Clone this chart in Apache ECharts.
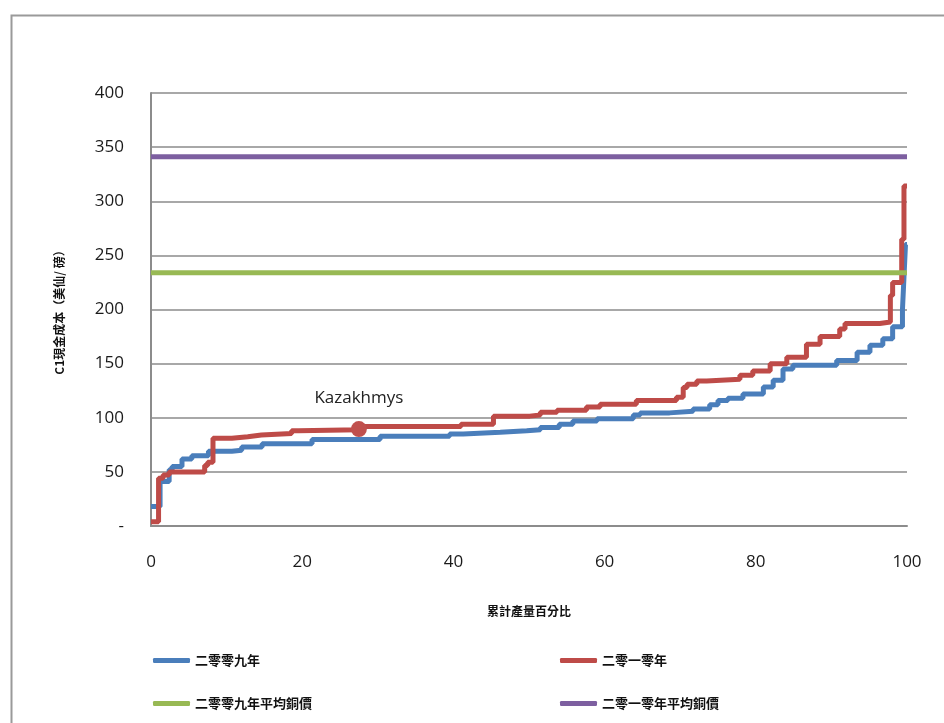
<!DOCTYPE html>
<html>
<head>
<meta charset="utf-8">
<script src="https://cdn.jsdelivr.net/npm/echarts@6/dist/echarts.min.js"></script>
<style>html,body{margin:0;padding:0;background:#fff;}#c{width:944px;height:723px;}</style>
</head>
<body>
<div id="c"></div>
<script>
// Cumulative production % where each step starts, and C1 cash cost (US c/lb)
const x2009 = [0, 1.2, 2.4, 2.8, 4.1, 5.4, 7.6, 10.7, 12, 14.7, 21.3, 30.3, 39.5, 41.3, 46.2, 49.7, 51.5, 54, 55.8, 59, 63.8, 64.7, 68.6, 71.7, 73.9, 75, 76.3, 78.3, 81, 82.3, 83.6, 84.9, 90.7, 93.4, 95.1, 96.8, 98.1, 99.4, 99.6, 99.8, 100];
const y2009 = [18, 41, 52, 55, 62, 65, 69, 70, 73, 76, 80, 83, 85, 86.5, 88, 89, 91, 94, 97, 99, 102.5, 104.5, 106, 108, 112, 116, 118, 122, 128.5, 134.7, 145, 148.5, 153, 160.5, 167, 173, 184, 200, 230, 260, 260];
const x2010 = [0, 1, 1.6, 2.4, 7.1, 7.5, 8.2, 10.7, 12.8, 14.6, 18.6, 19.5, 27.5, 41, 45.3, 50.1, 51.5, 53.7, 57.6, 59.4, 64.2, 69.5, 70.4, 70.9, 72.2, 73.5, 77.9, 79.6, 81.9, 84.1, 86.7, 88.5, 91.1, 91.8, 96.4, 97.8, 98.1, 99.3, 99.6, 100];
const y2010 = [4, 44, 47, 50, 56, 59, 81, 82.5, 84, 85.5, 88, 89, 92, 94, 101.5, 102.5, 105, 107, 110, 112.5, 116, 119, 128, 131, 134, 135.5, 139.3, 143.3, 150, 156, 168, 175, 182, 187, 188.5, 213, 225, 265, 314, 314];
const avgPriceX = [0, 100];
const avg2009 = [234, 234];
const avg2010 = [341, 341];
const kazakhmys = [27.5, 89.5];
const seriesNames = ['二零零九年', '二零一零年', '二零零九年平均銅價', '二零一零年平均銅價'];
const yTicks = [0, 50, 100, 150, 200, 250, 300, 350, 400];
const xTicks = [0, 20, 40, 60, 80, 100];

const zip = (xs, ys) => xs.map((x, i) => [x, ys[i]]);
const colors = ['#4A7EBB', '#BE4B48', '#98B954', '#7D5FA0'];
const cjk = '"Noto Sans CJK TC", "Noto Sans", sans-serif';
const latin = '"Open Sans", "Noto Sans", "DejaVu Sans", sans-serif';

const chart = echarts.init(document.getElementById('c'));
const legendPos = [[148, 649], [555, 649], [148, 692], [555, 692]];
chart.setOption({
  animation: false,
  backgroundColor: '#fff',
  graphic: [{
    type: 'rect', left: 9, top: 13, shape: { width: 1000, height: 1000 },
    style: { fill: 'none', stroke: '#9a9a9a', lineWidth: 2 }, silent: true
  }],
  grid: { left: 151, right: 37, top: 93, bottom: 197, containLabel: false },
  legend: seriesNames.map((n, i) => ({
    data: [n], left: legendPos[i][0], top: legendPos[i][1],
    icon: 'roundRect', itemWidth: 37, itemHeight: 5, itemGap: 8,
    textStyle: { fontFamily: cjk, fontSize: 13, fontWeight: 'bold', color: '#111' },
    selectedMode: false
  })),
  xAxis: {
    type: 'value', min: 0, max: 100, interval: 20,
    name: '累計產量百分比', nameLocation: 'middle', nameGap: 79,
    nameTextStyle: { fontFamily: cjk, fontSize: 12, fontWeight: 'bold', color: '#111' },
    axisLine: { show: true, lineStyle: { color: '#8c8c8c', width: 2 } },
    axisTick: { show: false },
    splitLine: { show: false },
    axisLabel: { fontFamily: latin, fontSize: 17, color: '#1a1a1a', margin: 28,
      formatter: v => xTicks.includes(v) ? String(v) : '' }
  },
  yAxis: {
    type: 'value', min: 0, max: 400, interval: 50,
    name: 'C1現金成本（美仙/ 磅）', nameLocation: 'middle', nameGap: 86,
    nameTextStyle: { fontFamily: cjk, fontSize: 12, fontWeight: 'bold', color: '#111' },
    axisLine: { show: true, lineStyle: { color: '#8c8c8c', width: 2 } },
    axisTick: { show: false },
    splitLine: { show: true, lineStyle: { color: '#a8a8a8', width: 2 } },
    axisLabel: { fontFamily: latin, fontSize: 17, color: '#1a1a1a', margin: 27,
      formatter: v => yTicks.includes(v) ? (v === 0 ? '-' : String(v)) : '' }
  },
  series: [
    { name: seriesNames[0], type: 'line', step: 'end', data: zip(x2009, y2009), showSymbol: false,
      lineStyle: { color: colors[0], width: 5 }, itemStyle: { color: colors[0] } },
    { name: seriesNames[1], type: 'line', step: 'end', data: zip(x2010, y2010), showSymbol: false,
      lineStyle: { color: colors[1], width: 5 }, itemStyle: { color: colors[1] } },
    { name: seriesNames[2], type: 'line', data: zip(avgPriceX, avg2009), showSymbol: false,
      lineStyle: { color: colors[2], width: 5 }, itemStyle: { color: colors[2] } },
    { name: seriesNames[3], type: 'line', data: zip(avgPriceX, avg2010), showSymbol: false,
      lineStyle: { color: colors[3], width: 5 }, itemStyle: { color: colors[3] } },
    { name: 'Kazakhmys', type: 'scatter', data: [kazakhmys], symbolSize: 16, z: 5,
      itemStyle: { color: '#C0504D', opacity: 1 },
      label: { show: true, position: 'top', distance: 14, formatter: 'Kazakhmys',
        fontFamily: latin, fontSize: 17, color: '#222' } }
  ]
});
</script>
</body>
</html>
